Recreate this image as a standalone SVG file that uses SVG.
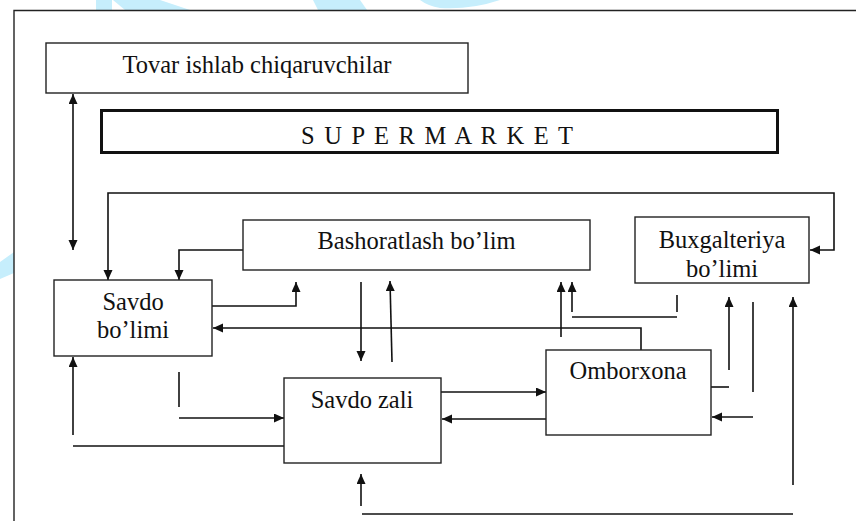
<svg xmlns="http://www.w3.org/2000/svg" width="856" height="521" viewBox="0 0 856 521">
<style>
.box{fill:#fff;stroke:#222;stroke-width:1.4}
.thick{fill:#fff;stroke:#111;stroke-width:3}
.t{font-family:"Liberation Serif","Times New Roman",serif;font-size:24.5px;fill:#111}
.c{fill:none;stroke:#111;stroke-width:1.6}
.a{marker-end:url(#ah)}
.s{marker-start:url(#ah)}
.wm{fill:#c6eefc;stroke:none}
</style>
<defs>
<marker id="ah" markerUnits="userSpaceOnUse" markerWidth="11" markerHeight="10" refX="10" refY="4.5" orient="auto-start-reverse">
<path d="M0,0 L10,4.5 L0,9 z" fill="#111"/>
</marker>
</defs>
<rect width="856" height="521" fill="#fff"/>
<g id="watermark">
<polygon class="wm" points="96,0 112,0 112,10 96,10"/>
<polygon class="wm" points="113,0 160,0 190,10 125,10"/>
<polygon class="wm" points="313,0 360,0 367,10 318,10"/>
<path class="wm" d="M420,0 L500,0 Q470,10 440,8 Q428,6 420,0 z"/>
<polygon class="wm" points="0,262 14,252 14,273 0,279"/>
</g>
<g id="frame">
<path d="M14,521 V10.5 H856" fill="none" stroke="#222" stroke-width="1.4"/>
</g>
<g id="connectors">
<path class="c a s" d="M73,94 V250"/>
<path class="c a s" d="M108,280 V193 H834 V250 H810"/>
<path class="c a" d="M243,250 H179 V280"/>
<path class="c a" d="M212,306 H296 V282"/>
<path class="c a" d="M641,350 V328 H213"/>
<path class="c a" d="M361,282 V361"/>
<path class="c a" d="M392,362 L390,281"/>
<path class="c a" d="M561,337 V282"/>
<path class="c a" d="M572,312 V282"/>
<path class="c" d="M572,317 H677 M677,295 V312"/>
<path class="c a" d="M729,370 V297"/>
<path class="c" d="M711,387 H729"/>
<path class="c" d="M753,302 V392"/>
<path class="c a" d="M753,417 H712"/>
<path class="c a" d="M793,485 V297"/>
<path class="c" d="M362,514 H793"/>
<path class="c a" d="M361,506 V474"/>
<path class="c a" d="M73,435 V357"/>
<path class="c" d="M73,446 H284"/>
<path class="c" d="M179,372 V407"/>
<path class="c a" d="M179,418 H284"/>
<path class="c a" d="M441,392 H546"/>
<path class="c a" d="M546,419 H442"/>
</g>
<g id="tovar">
<rect class="box" x="46" y="43" width="422" height="50"/>
<text class="t" x="257" y="73" text-anchor="middle">Tovar ishlab chiqaruvchilar</text>
</g>
<g id="supermarket">
<rect class="thick" x="101.5" y="110.5" width="676" height="42"/>
<text class="t" x="301" y="144" letter-spacing="1.75">S U P E R M A R K E T</text>
</g>
<g id="savdo-bolimi">
<rect class="box" x="54" y="280" width="158" height="76"/>
<text class="t" x="133" y="310" text-anchor="middle">Savdo</text>
<text class="t" x="133" y="338" text-anchor="middle">bo’limi</text>
</g>
<g id="bashoratlash">
<rect class="box" x="243" y="220" width="347" height="50"/>
<text class="t" x="416.5" y="249" text-anchor="middle">Bashoratlash bo’lim</text>
</g>
<g id="buxgalteriya">
<rect class="box" x="635" y="217" width="174" height="66"/>
<text class="t" x="722" y="248" text-anchor="middle">Buxgalteriya</text>
<text class="t" x="722" y="277" text-anchor="middle">bo’limi</text>
</g>
<g id="savdo-zali">
<rect class="box" x="284" y="378" width="157" height="85"/>
<text class="t" x="362" y="408" text-anchor="middle">Savdo zali</text>
</g>
<g id="omborxona">
<rect class="box" x="546" y="350" width="165" height="85"/>
<text class="t" x="628" y="379" text-anchor="middle">Omborxona</text>
</g>
</svg>
